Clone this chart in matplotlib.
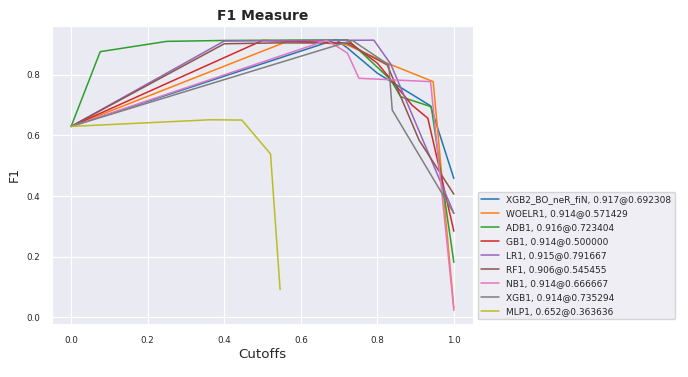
import matplotlib
matplotlib.use('Agg')
import matplotlib.pyplot as plt
import seaborn as sns

# cutoff / F1 pairs, one pair of lists per model
labels = ['XGB2_BO_neR_fiN, 0.917@0.692308', 'WOELR1, 0.914@0.571429',
          'ADB1, 0.916@0.723404', 'GB1, 0.914@0.500000', 'LR1, 0.915@0.791667',
          'RF1, 0.906@0.545455', 'NB1, 0.914@0.666667', 'XGB1, 0.914@0.735294',
          'MLP1, 0.652@0.363636']

xgb2_x = [0, 0.692, 0.722, 0.80, 0.939, 1.0]
xgb2_y = [0.63, 0.917, 0.889, 0.806, 0.698, 0.458]

woelr_x = [0, 0.571, 0.72, 0.826, 0.946, 1.0]
woelr_y = [0.63, 0.914, 0.90, 0.839, 0.778, 0.03]

adb_x = [0, 0.076, 0.25, 0.40, 0.723, 0.765, 0.835, 0.861, 0.941, 1.0]
adb_y = [0.63, 0.877, 0.911, 0.914, 0.916, 0.867, 0.784, 0.728, 0.695, 0.181]

gb_x = [0, 0.5, 0.73, 0.80, 0.891, 0.932, 1.0]
gb_y = [0.63, 0.914, 0.905, 0.839, 0.70, 0.657, 0.284]

lr_x = [0, 0.40, 0.791, 0.835, 1.0]
lr_y = [0.63, 0.912, 0.915, 0.836, 0.343]

rf_x = [0, 0.40, 0.545, 0.72, 0.826, 0.909, 1.0]
rf_y = [0.63, 0.903, 0.906, 0.905, 0.833, 0.585, 0.406]

nb_x = [0, 0.667, 0.695, 0.722, 0.752, 0.939, 1.0]
nb_y = [0.63, 0.914, 0.894, 0.872, 0.789, 0.778, 0.022]

xgb_x = [0, 0.735, 0.83, 0.839, 1.0]
xgb_y = [0.63, 0.914, 0.833, 0.684, 0.343]

mlp_x = [0, 0.364, 0.446, 0.521, 0.546]
mlp_y = [0.63, 0.652, 0.651, 0.539, 0.091]

curves = [(xgb2_x, xgb2_y), (woelr_x, woelr_y), (adb_x, adb_y), (gb_x, gb_y),
          (lr_x, lr_y), (rf_x, rf_y), (nb_x, nb_y), (xgb_x, xgb_y), (mlp_x, mlp_y)]

sns.set_style('darkgrid')
plt.rcParams['font.family'] = ['DejaVu Sans']

fig = plt.figure(figsize=(6.88, 3.77), dpi=100)
ax = fig.add_axes([52/688, 1-324/377, (473-52)/688, (324-26)/377])

colors = plt.get_cmap('tab10').colors
for (x, y), lab, c in zip(curves, labels, colors):
    ax.plot(x, y, color=c, lw=1.1, label=lab)

ax.set_title('F1 Measure', fontsize=10, fontweight='bold', color='.15', pad=4)
ax.set_xlabel('Cutoffs', fontsize=9.6, color='.15', labelpad=2)
ax.set_ylabel('F1', fontsize=9, color='.15', labelpad=4)
ax.tick_params(labelsize=6.3, colors='.15', pad=5)
ax.set_xticks([0.0, 0.2, 0.4, 0.6, 0.8, 1.0])
ax.set_yticks([0.0, 0.2, 0.4, 0.6, 0.8])

ax.legend(loc='lower left', bbox_to_anchor=(1, 0), fontsize=6.5,
          borderaxespad=0.5, handlelength=2.0, labelspacing=0.55)

plt.savefig('out.png', dpi=100)
plt.close()
